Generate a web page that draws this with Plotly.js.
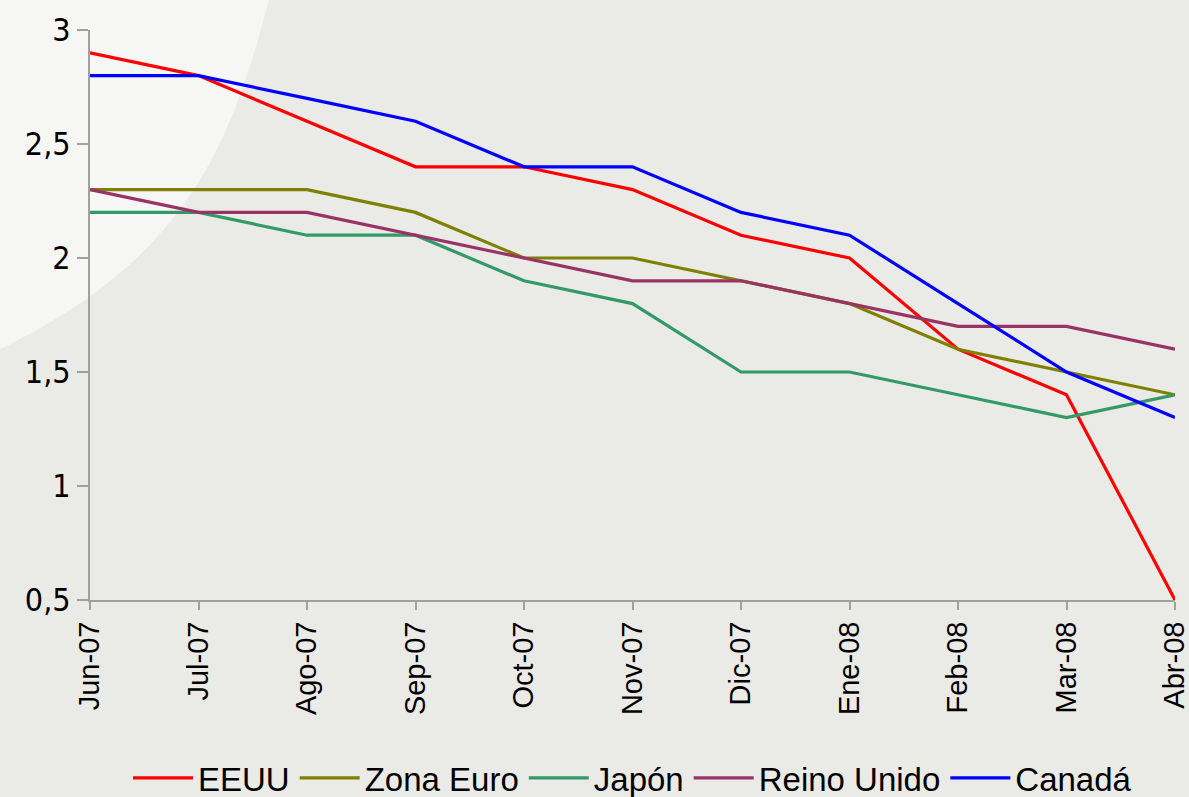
<!DOCTYPE html>
<html>
<head>
<meta charset="utf-8">
<script src="https://cdn.plot.ly/plotly-3.0.1.min.js"></script>
<style>html,body{margin:0;padding:0;background:#eaeae6;}#chart{width:1189px;height:797px;}</style>
</head>
<body>
<div id="chart"></div>
<script>
const months = ["Jun-07","Jul-07","Ago-07","Sep-07","Oct-07","Nov-07","Dic-07","Ene-08","Feb-08","Mar-08","Abr-08"];
const eeuu       = [2.9, 2.8, 2.6, 2.4, 2.4, 2.3, 2.1, 2.0, 1.6, 1.4, 0.5];
const zonaEuro   = [2.3, 2.3, 2.3, 2.2, 2.0, 2.0, 1.9, 1.8, 1.6, 1.5, 1.4];
const japon      = [2.2, 2.2, 2.1, 2.1, 1.9, 1.8, 1.5, 1.5, 1.4, 1.3, 1.4];
const reinoUnido = [2.3, 2.2, 2.2, 2.1, 2.0, 1.9, 1.9, 1.8, 1.7, 1.7, 1.6];
const canada     = [2.8, 2.8, 2.7, 2.6, 2.4, 2.4, 2.2, 2.1, 1.8, 1.5, 1.3];
const yTicks = [0.5, 1, 1.5, 2, 2.5, 3];

const series = [
  {name: "EEUU", y: eeuu, color: "#ff0000"},
  {name: "Zona Euro", y: zonaEuro, color: "#808000"},
  {name: "Japón", y: japon, color: "#339966"},
  {name: "Reino Unido", y: reinoUnido, color: "#993366"},
  {name: "Canadá", y: canada, color: "#0000ff"}
];

const traces = series.map(s => ({
  type: "scatter", mode: "lines", name: s.name, x: months, y: s.y,
  line: {color: s.color, width: 3.2}
}));

const layout = {
  width: 1189, height: 797,
  paper_bgcolor: "#eaeae6", plot_bgcolor: "rgba(0,0,0,0)",
  separators: ",.",
  margin: {l: 90, r: 14, t: 30, b: 197},
  showlegend: true,
  legend: {
    orientation: "h", xref: "paper", x: 0.5, xanchor: "center",
    yref: "container", y: 0.024, yanchor: "middle",
    font: {family: "Liberation Sans, Arial, sans-serif", size: 33, color: "#000"},
    itemwidth: 60, bgcolor: "rgba(0,0,0,0)"
  },
  xaxis: {
    type: "category", range: [0, 10], showgrid: false, zeroline: false,
    showline: true, linecolor: "#a0a0a0", linewidth: 2,
    ticks: "outside", ticklen: 8, tickwidth: 2, tickcolor: "#a0a0a0",
    tickangle: -90,
    tickfont: {family: "Liberation Sans, Arial, sans-serif", size: 29, color: "#000"}
  },
  yaxis: {
    range: [0.5, 3], tickvals: yTicks, showgrid: false, zeroline: false,
    showline: true, linecolor: "#a0a0a0", linewidth: 2,
    ticks: "outside", ticklen: 11, tickwidth: 2, tickcolor: "#a0a0a0",
    tickfont: {family: "DejaVu Sans Condensed, DejaVu Sans, sans-serif", size: 32, color: "#000"}
  },
  shapes: [
    {type: "path", xref: "paper", yref: "paper", layer: "below",
     path: "M -0.083 1.053 L 0.165 1.053 C 0.13 0.8, 0.09 0.6, -0.083 0.44 Z",
     fillcolor: "rgba(255,255,255,0.55)", line: {width: 0}}
  ]
};

Plotly.newPlot("chart", traces, layout, {displayModeBar: false, staticPlot: true});
</script>
</body>
</html>
